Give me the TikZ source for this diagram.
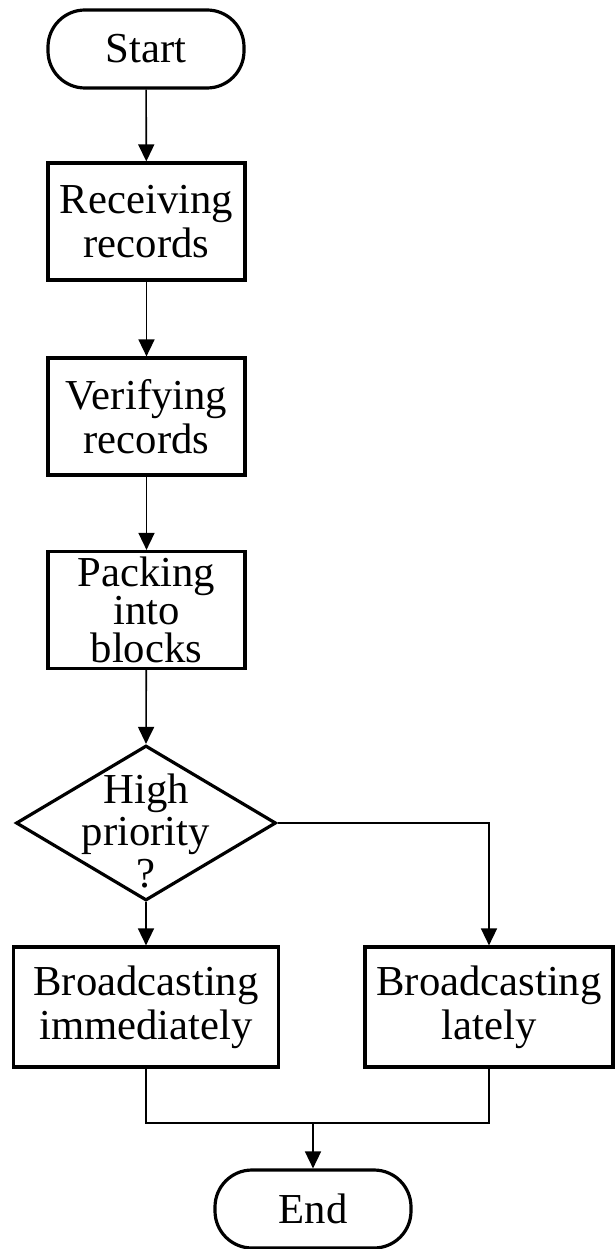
\documentclass[tikz,border=0pt]{standalone}
\usepackage{fontspec}
\setmainfont{Liberation Serif}
\usetikzlibrary{arrows.meta,shapes.geometric}
\begin{document}
\begin{tikzpicture}[x=1pt,y=1pt,
  txt/.style={font=\fontsize{42.7}{44}\selectfont, align=center},
  box/.style={txt, draw, line width=3.2pt, minimum width=197pt, minimum height=117pt, inner sep=0pt},
  term/.style={txt, draw, line width=3.2pt, rounded corners=37pt, minimum width=196pt, minimum height=78pt, inner sep=0pt},
  dia/.style={draw, diamond, line width=3.2pt, minimum width=260pt, minimum height=155pt, inner sep=0pt},
  conn/.style={line width=1.6pt, -{Triangle[length=17pt,width=16pt]}},
  wire/.style={line width=1.6pt}
]
\useasboundingbox (0,0) rectangle (615,-1249);
\node[term] (start) at (146,-49) {Start};
\node[box] (recv) at (146.5,-221.5) {Receiving\\records};
\node[box] (verify) at (146.5,-416.5) {Verifying\\records};
\node[box, font=\fontsize{42.7}{38}\selectfont] (pack) at (146.5,-610) {Packing\\into\\blocks};
\node[dia] (dec) at (146,-823) {};
\node[txt, font=\fontsize{42.7}{42}\selectfont] (dectext) at (146,-831) {High\\priority\\?};
\node[box, minimum width=265pt, minimum height=120pt] (imm) at (146,-1007) {Broadcasting\\immediately};
\node[box, minimum width=248pt, minimum height=120pt] (late) at (489,-1007) {Broadcasting\\lately};
\node[term] (end) at (313,-1209) {End};
\coordinate (merge) at (313,-1123);
\draw[conn] (start) -- (recv);
\draw[conn] (recv) -- (verify);
\draw[conn] (verify) -- (pack);
\draw[conn] (pack) -- (dec.north);
\draw[conn] (dec.south) -- (imm);
\draw[conn] (dec.east) -| (late);
\draw[wire] (imm.south) |- (merge);
\draw[wire] (late.south) |- (merge);
\draw[conn] (merge) -- (end);
\end{tikzpicture}
\end{document}
